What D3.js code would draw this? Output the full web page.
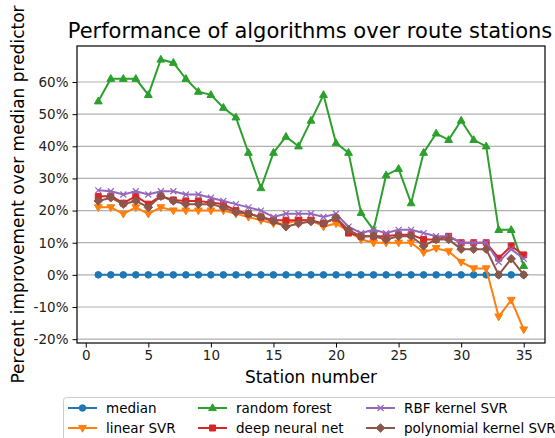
<!DOCTYPE html>
<head>
  <meta charset="utf-8">
  <style>
  body { margin: 0; background: #fff; }
  * { font-family: "DejaVu Sans"; }
  .grid line { stroke: #b0b0b0; stroke-width: 1.2px; }
  .axis path, .axis line { stroke: #000; }
  .axis text { font-size: 13.5px; fill: #222; }
  </style>
  <title>Performance of algorithms over route stations</title>
</head>
<body>
  <svg width="555" height="438"></svg>
  <script src="https://d3js.org/d3.v7.min.js"></script>
  <script>
  // station numbers 1..35
  var stations = [1,2,3,4,5,6,7,8,9,10,11,12,13,14,15,16,17,18,19,20,21,22,23,24,25,26,27,28,29,30,31,32,33,34,35];

  var median = [0,0,0,0,0,0,0,0,0,0,0,0,0,0,0,0,0,0,0,0,0,0,0,0,0,0,0,0,0,0,0,0,0,0,0];
  var linearSVR = [21,21,19,21,19,21,20,20,20,20,20,19,18,17,16,16,17,17,15,16,13.5,11,10,10,10,10,7,8.3,7.3,4,2,2,-13,-7.8,-17];
  var randomForest = [54,61,61,61,56,67,66,61,57,56,52,49,38,27,38,43,40,48,56,41,38,19.3,14,31,33,22.3,38,44,42,48,42,40,14,14,2.8];
  var deepNet = [24.4,24.5,22.3,24.5,22,24.5,23.3,23,23,22.5,22,20,19,18,17,17,17,17,16,17.7,13,12,12,12,12.5,12.5,11,11,12,10,10,10,5.2,9,6.2];
  var rbfSVR = [26.3,26,25,26,25,26,26,25,25,24,23,22,21,20,18,19,19,19,18,19,15,13,14,13,14,14,13,12,12,10,10,10,4,8,5];
  var polySVR = [23,24,22,23,21,24.5,23,22,22,22,21,19.5,19,18,16.6,15,16,16.6,16,17.8,14,12,12,11,12,12,9,11,11,8,8,8,0,5,0];

  var yTicks = [-20,-10,0,10,20,30,40,50,60];
  var xTicks = [0,5,10,15,20,25,30,35];

  var series = [
    {name: "median", values: median, color: "#1f77b4", marker: "circle"},
    {name: "linear SVR", values: linearSVR, color: "#ff7f0e", marker: "tridown"},
    {name: "random forest", values: randomForest, color: "#2ca02c", marker: "triup"},
    {name: "deep neural net", values: deepNet, color: "#d62728", marker: "square"},
    {name: "RBF kernel SVR", values: rbfSVR, color: "#9467bd", marker: "x"},
    {name: "polynomial kernel SVR", values: polySVR, color: "#8c564b", marker: "diamond"}
  ];

  var svg = d3.select("svg");
  var plotLeft = 77, plotRight = 545, plotTop = 46, plotBottom = 343;

  var x = d3.scaleLinear().domain([-0.7, 36.7]).range([plotLeft, plotRight]);
  var y = d3.scaleLinear().domain([-21.2, 71.2]).range([plotBottom, plotTop]);

  // grid
  svg.append("g").attr("class", "grid")
    .selectAll("line").data(yTicks).enter().append("line")
      .attr("x1", plotLeft).attr("x2", plotRight)
      .attr("y1", function(d) { return y(d); })
      .attr("y2", function(d) { return y(d); });

  function markerPath(type) {
    switch (type) {
      case "circle": return d3.symbol(d3.symbolCircle, 34)();
      case "triup": return "M0,-4.2L3.9,2.6L-3.9,2.6Z";
      case "tridown": return "M0,4.2L3.9,-2.6L-3.9,-2.6Z";
      case "square": return "M-3,-3L3,-3L3,3L-3,3Z";
      case "diamond": return "M0,-4.3L4.3,0L0,4.3L-4.3,0Z";
      case "x": return "M-3,-3L3,3M-3,3L3,-3";
    }
  }

  var line = d3.line()
    .x(function(d, i) { return x(stations[i]); })
    .y(function(d) { return y(d); });

  series.forEach(function(s) {
    var g = svg.append("g");
    g.append("path")
      .attr("d", line(s.values))
      .attr("fill", "none")
      .attr("stroke", s.color)
      .attr("stroke-width", 2);
    g.selectAll("path.m").data(s.values).enter().append("path")
      .attr("class", "m")
      .attr("transform", function(d, i) { return "translate(" + x(stations[i]) + "," + y(d) + ")"; })
      .attr("d", markerPath(s.marker))
      .attr("fill", s.marker == "x" ? "none" : s.color)
      .attr("stroke", s.color)
      .attr("stroke-width", s.marker == "x" ? 1.2 : 1);
  });

  // axes
  var xAxis = svg.append("g").attr("class", "axis")
    .attr("transform", "translate(0," + plotBottom + ")")
    .call(d3.axisBottom(x).tickValues(xTicks).tickSize(4.5).tickPadding(3));
  var yAxis = svg.append("g").attr("class", "axis")
    .attr("transform", "translate(" + plotLeft + ",0)")
    .call(d3.axisLeft(y).tickValues(yTicks).tickSize(4.5).tickPadding(4)
      .tickFormat(function(d) { return d + "%"; }));
  xAxis.select(".domain").remove();
  yAxis.select(".domain").remove();

  svg.append("rect")
    .attr("x", plotLeft).attr("y", plotTop)
    .attr("width", plotRight - plotLeft).attr("height", plotBottom - plotTop)
    .attr("fill", "none").attr("stroke", "#000").attr("stroke-width", 1.2);

  // labels
  svg.append("text")
    .attr("x", (plotLeft + plotRight) / 2 - 1).attr("y", 38)
    .attr("text-anchor", "middle")
    .style("font-size", "21px")
    .text("Performance of algorithms over route stations");

  svg.append("text")
    .attr("x", (plotLeft + plotRight) / 2).attr("y", 383)
    .attr("text-anchor", "middle")
    .style("font-size", "17px")
    .text("Station number");

  svg.append("text")
    .attr("transform", "translate(24," + ((plotTop + plotBottom) / 2) + ") rotate(-90)")
    .attr("text-anchor", "middle")
    .style("font-size", "17px")
    .text("Percent improvement over median predictor");

  // legend
  var legend = svg.append("g");
  legend.append("rect")
    .attr("x", 63.5).attr("y", 397.5)
    .attr("width", 520).attr("height", 60)
    .attr("rx", 3)
    .attr("fill", "#fff").attr("stroke", "#ccc");

  var colX = [68, 198, 366];
  var rowY = [408, 428];
  series.forEach(function(s, i) {
    var cx = colX[Math.floor(i / 2)], cy = rowY[i % 2];
    var item = legend.append("g");
    item.append("line")
      .attr("x1", cx).attr("x2", cx + 29)
      .attr("y1", cy).attr("y2", cy)
      .attr("stroke", s.color).attr("stroke-width", 2);
    item.append("path")
      .attr("transform", "translate(" + (cx + 14.5) + "," + cy + ")")
      .attr("d", markerPath(s.marker))
      .attr("fill", s.marker == "x" ? "none" : s.color)
      .attr("stroke", s.color)
      .attr("stroke-width", s.marker == "x" ? 1.2 : 1);
    item.append("text")
      .attr("x", cx + 38).attr("y", cy)
      .attr("dy", "0.35em")
      .style("font-size", "13.5px")
      .text(s.name);
  });
  </script>
</body>
